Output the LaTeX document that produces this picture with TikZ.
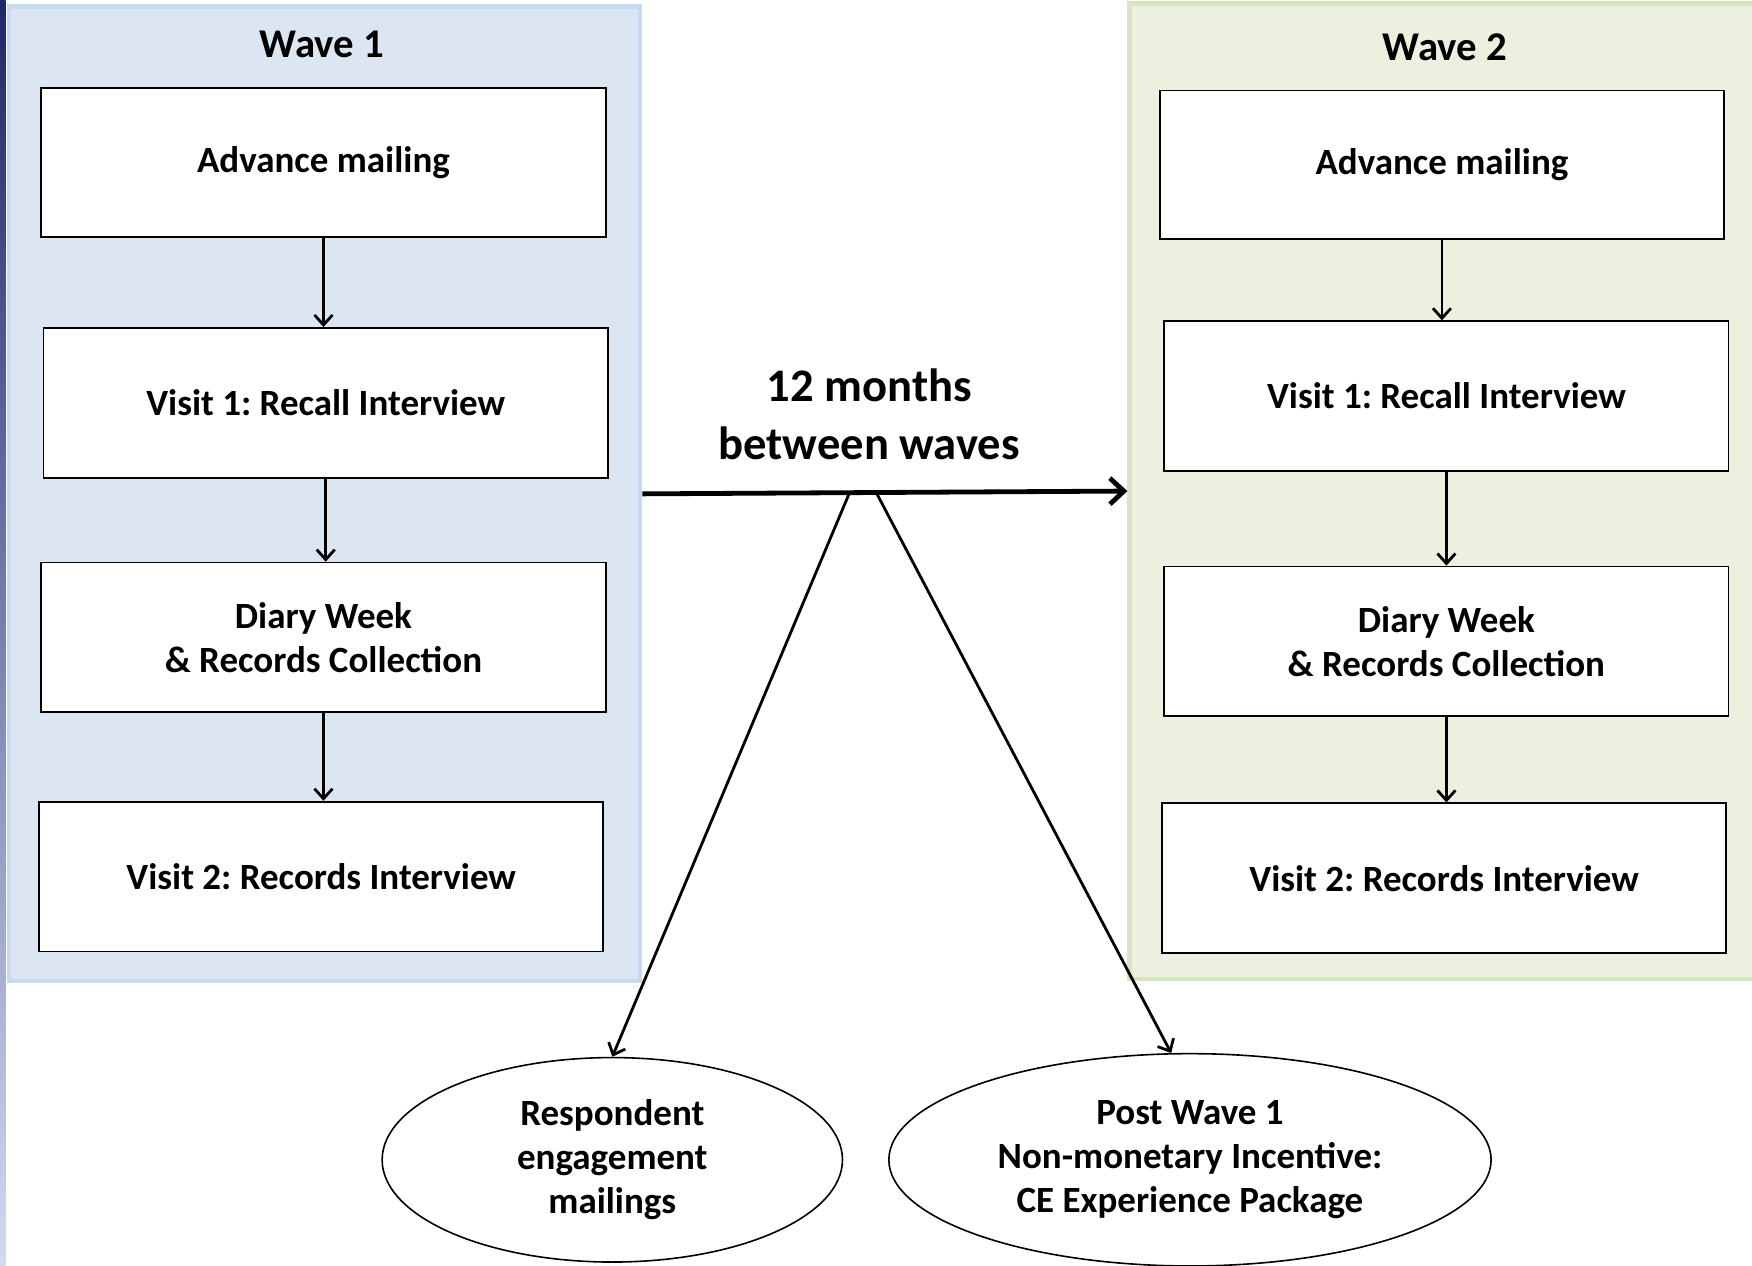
\documentclass[tikz,border=0pt]{standalone}
\usepackage{fontspec}
\setmainfont{Carlito}
\usetikzlibrary{arrows.meta,calc,positioning,shapes.geometric}
\definecolor{WaveOneFill}{RGB}{220,230,242}
\definecolor{WaveOneEdge}{RGB}{198,217,241}
\definecolor{WaveTwoFill}{RGB}{235,241,222}
\definecolor{WaveTwoEdge}{RGB}{215,228,189}
\definecolor{StripTop}{RGB}{30,40,105}
\definecolor{StripBottom}{RGB}{212,216,242}
\def\px{0.5587pt}
\frenchspacing

\begin{document}
\begin{tikzpicture}[x=\px,y=-\px,
    >={Straight Barb[length=5pt,width=9pt]},
    panel/.style={draw,line width=4*\px,minimum width=565*\px,minimum height=872*\px},
    wavetitle/.style={font=\bfseries\fontsize{20.4}{24}\selectfont},
    stage/.style={draw,fill=white,line width=0.9pt,minimum width=505*\px,
      minimum height=134*\px,align=center,font=\bfseries\fontsize{18.5}{22}\selectfont},
    extra/.style={draw,ellipse,line width=0.8pt,inner sep=0pt,align=center,
      font=\bfseries\fontsize{18.5}{22}\selectfont},
    flow/.style={->,line width=1.4pt}]
  \useasboundingbox (0,0) rectangle (1568,1133);
  \shade[top color=StripTop,bottom color=StripBottom] (0,0) rectangle (5,1133);

  \node[panel,fill=WaveOneFill,draw=WaveOneEdge] (w1) at (290.5,442) {};
  \node[panel,fill=WaveTwoFill,draw=WaveTwoEdge,minimum height=873*\px] (w2) at (1293.5,439.5) {};
  \node[wavetitle] (t1) at (288,40) {Wave 1};
  \node[wavetitle] (t2) at (1293,42) {Wave 2};

  \node[stage,minimum height=133*\px] (a1) at (289.5,145.5) {Advance mailing};
  \node[stage] (v1) at (291.5,360.5) {Visit 1: Recall Interview};
  \node[stage] (d1) at (289.5,570.5) {Diary Week\\\& Records Collection};
  \node[stage] (r1) at (287.5,784.5) {Visit 2: Records Interview};

  \node[stage,minimum height=133*\px] (a2) at (1290.5,147.5) {Advance mailing};
  \node[stage] (v2) at (1294.5,354.5) {Visit 1: Recall Interview};
  \node[stage] (d2) at (1294.5,574) {Diary Week\\\& Records Collection};
  \node[stage] (r2) at (1292.5,786) {Visit 2: Records Interview};

  \draw[flow] (a1.south) -- (a1.south |- v1.north);
  \draw[flow] (v1.south) -- (v1.south |- d1.north);
  \draw[flow] (d1.south) -- (d1.south |- r1.north);
  \draw[flow] (a2.south) -- (a2.south |- v2.north);
  \draw[flow] (v2.south) -- (v2.south |- d2.north);
  \draw[flow] (d2.south) -- (d2.south |- r2.north);

  \draw[->,line width=2.4pt,>={Straight Barb[length=7pt,width=13pt]}] (w1.east) -- (w2.west);
  \node[align=center,font=\bfseries\fontsize{23.3}{29}\selectfont] (gap) at (778,371)
    {12 months\\between waves};

  \node[extra,minimum width=412*\px,minimum height=183*\px] (e1) at (548,1038)
    {Respondent\\engagement\\mailings};
  \node[extra,minimum width=539*\px,minimum height=190*\px] (e2) at (1065,1038)
    {Post Wave 1\\Non-monetary Incentive:\\CE Experience Package};

  \coordinate (s1) at ($(w1.east)!0.427!(w2.west)$);
  \coordinate (s2) at ($(w1.east)!0.482!(w2.west)$);
  \draw[flow] (s1) -- (e1.north);
  \draw[flow] (s2) -- (e2.100);
\end{tikzpicture}
\end{document}
